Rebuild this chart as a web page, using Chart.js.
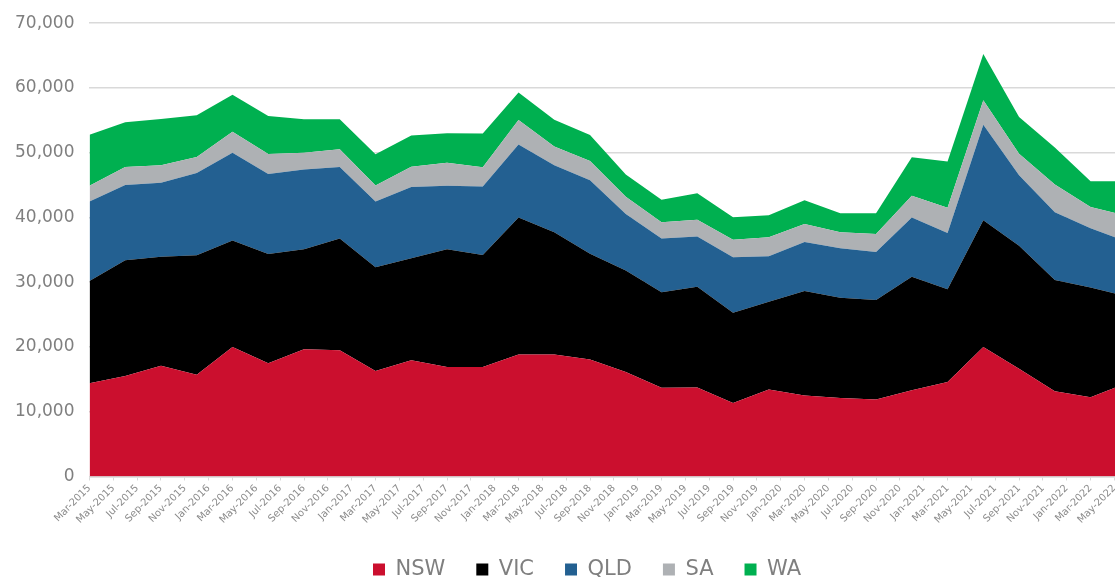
<!DOCTYPE html>
<html>
<head>
<meta charset="utf-8">
<script src="https://cdn.jsdelivr.net/npm/chart.js@4"></script>
<style>
  html, body { margin: 0; padding: 0; background: #fff; overflow: hidden; }
  #wrap { width: 1174px; height: 592px; margin-top: -2px; }
</style>
</head>
<body>
<div id="wrap"><canvas id="myChart"></canvas></div>
<script>
// quarterly data points
const quarters = [
  "Mar-2015", "Jun-2015", "Sep-2015", "Dec-2015",
  "Mar-2016", "Jun-2016", "Sep-2016", "Dec-2016",
  "Mar-2017", "Jun-2017", "Sep-2017", "Dec-2017",
  "Mar-2018", "Jun-2018", "Sep-2018", "Dec-2018",
  "Mar-2019", "Jun-2019", "Sep-2019", "Dec-2019",
  "Mar-2020", "Jun-2020", "Sep-2020", "Dec-2020",
  "Mar-2021", "Jun-2021", "Sep-2021", "Dec-2021",
  "Mar-2022", "Jun-2022",
];

const nsw = [14400, 15500, 17100, 15700, 20000, 17500, 19650, 19500, 16300, 17950, 16900, 16900, 18850, 18850, 18050, 16150, 13700, 13750, 11350, 13450, 12500, 12100, 11900, 13300, 14600, 20000, 16650, 13150, 12250, 14400];
const vic = [15800, 17900, 16850, 18450, 16450, 16850, 15450, 17250, 16000, 15750, 18200, 17300, 21150, 18850, 16350, 15650, 14750, 15550, 13950, 13550, 16150, 15500, 15350, 17550, 14300, 19550, 19000, 17200, 16950, 13450];
const qld = [12250, 11600, 11400, 12700, 13550, 12350, 12300, 11050, 10150, 11000, 9800, 10600, 11250, 10350, 11350, 8750, 8300, 7750, 8550, 7000, 7550, 7650, 7400, 9150, 8700, 14750, 10850, 10450, 9150, 8450];
const sa = [2430, 2800, 2700, 2500, 3250, 3100, 2600, 2750, 2500, 3150, 3550, 2950, 3800, 2900, 2950, 2650, 2500, 2600, 2700, 2950, 2800, 2450, 2800, 3350, 3900, 3800, 3350, 4300, 3250, 3950];
const wa = [7900, 6900, 7150, 6450, 5700, 5850, 5150, 4600, 4800, 4800, 4550, 5200, 4250, 4150, 4050, 3450, 3500, 4100, 3500, 3400, 3650, 2950, 3200, 5950, 7150, 7150, 5650, 5700, 4000, 5350];

// axis labels, one every two months
const tickLabels = [
  "Mar-2015", "May-2015", "Jul-2015", "Sep-2015", "Nov-2015",
  "Jan-2016", "Mar-2016", "May-2016", "Jul-2016", "Sep-2016", "Nov-2016",
  "Jan-2017", "Mar-2017", "May-2017", "Jul-2017", "Sep-2017", "Nov-2017",
  "Jan-2018", "Mar-2018", "May-2018", "Jul-2018", "Sep-2018", "Nov-2018",
  "Jan-2019", "Mar-2019", "May-2019", "Jul-2019", "Sep-2019", "Nov-2019",
  "Jan-2020", "Mar-2020", "May-2020", "Jul-2020", "Sep-2020", "Nov-2020",
  "Jan-2021", "Mar-2021", "May-2021", "Jul-2021", "Sep-2021", "Nov-2021",
  "Jan-2022", "Mar-2022", "May-2022",
];
const yTicks = [0, 10000, 20000, 30000, 40000, 50000, 60000, 70000];

const monthNames = ["Jan", "Feb", "Mar", "Apr", "May", "Jun", "Jul", "Aug", "Sep", "Oct", "Nov", "Dec"];

// months since Mar-2015
function monthIndex(label) {
  const [m, y] = label.split("-");
  return (Number(y) - 2015) * 12 + monthNames.indexOf(m) - 2;
}

function toPoints(values) {
  return values.map((v, i) => ({ x: monthIndex(quarters[i]), y: v }));
}

function area(label, values, color, fill) {
  return {
    label: label,
    data: toPoints(values),
    backgroundColor: color,
    borderColor: color,
    borderWidth: 0,
    pointRadius: 0,
    fill: fill,
  };
}

const ctx = document.getElementById("myChart");

new Chart(ctx, {
  type: "line",
  data: {
    datasets: [
      area("NSW", nsw, "#CB0F2E", "origin"),
      area("VIC", vic, "#000000", "-1"),
      area("QLD", qld, "#236091", "-1"),
      area("SA", sa, "#AEB1B4", "-1"),
      area("WA", wa, "#00B050", "-1"),
    ],
  },
  options: {
    responsive: true,
    maintainAspectRatio: false,
    animation: false,
    layout: {
      padding: { left: 0, top: 14, right: 0, bottom: 0 },
    },
    plugins: {
      tooltip: { enabled: false },
      legend: {
        position: "bottom",
        labels: {
          boxWidth: 12,
          boxHeight: 12,
          padding: 31,
          color: "#7f7f7f",
          font: { family: "DejaVu Sans", size: 21 },
        },
      },
    },
    scales: {
      x: {
        type: "linear",
        min: 0,
        max: 91,
        afterBuildTicks: (scale) => {
          scale.ticks = tickLabels.map((t) => ({ value: monthIndex(t) }));
        },
        ticks: {
          autoSkip: false,
          maxRotation: 45,
          minRotation: 45,
          padding: 2,
          color: "#8c8c8c",
          font: { family: "DejaVu Sans", size: 10 },
          callback: (value) => tickLabels[value / 2],
        },
        grid: {
          drawOnChartArea: false,
          drawTicks: true,
          tickLength: 4,
          color: "#d9d9d9",
        },
        border: { display: true, color: "#d9d9d9", width: 1.5 },
      },
      y: {
        stacked: true,
        min: 0,
        max: 70000,
        afterBuildTicks: (scale) => {
          scale.ticks = yTicks.map((v) => ({ value: v }));
        },
        ticks: {
          padding: 15,
          color: "#7f7f7f",
          font: { family: "DejaVu Sans", size: 17 },
          callback: (value) => value.toLocaleString("en-US"),
        },
        grid: {
          color: "#d9d9d9",
          lineWidth: 1.5,
          drawTicks: false,
        },
        border: { display: false },
      },
    },
  },
});
</script>
</body>
</html>
